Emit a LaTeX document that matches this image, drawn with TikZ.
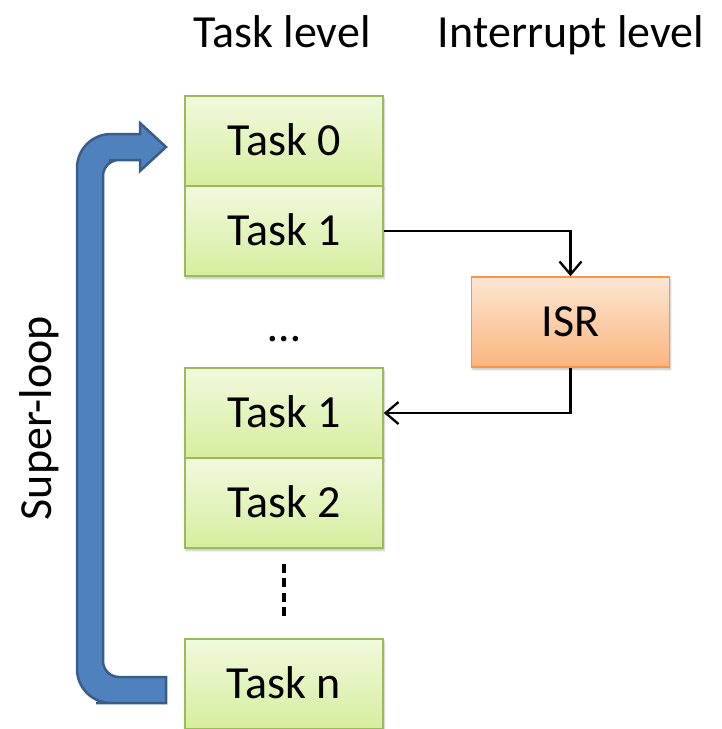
\documentclass[tikz,border=0pt]{standalone}
\usepackage{fontspec}
\setmainfont{Carlito}
\usetikzlibrary{arrows.meta,shadows.blur}
\definecolor{taskTop}{HTML}{F1F9DE}
\definecolor{taskBot}{HTML}{D6EE9E}
\definecolor{taskLine}{HTML}{9BBB59}
\definecolor{isrTop}{HTML}{FDE6D3}
\definecolor{isrBot}{HTML}{FAB57E}
\definecolor{isrLine}{HTML}{F79646}
\definecolor{loopFill}{HTML}{4F81BD}
\definecolor{loopLine}{HTML}{385D8A}
\tikzset{
  big/.style={font=\fontsize{46}{50}\selectfont},
  taskbox/.style={big, draw=taskLine, line width=1.5pt, top color=taskTop, bottom color=taskBot,
    minimum width=198pt, minimum height=90pt, inner sep=0pt, text height=29.6pt, text depth=0pt,
    blur shadow={shadow xshift=1pt, shadow yshift=-2.5pt, shadow blur steps=6, shadow opacity=25}},
  isrbox/.style={taskbox, draw=isrLine, top color=isrTop, bottom color=isrBot},
  flow/.style={line width=2.3pt, -{Straight Barb[length=13pt,width=22pt,line width=2.3pt]}},
  loop/.style={fill=loopFill, draw=loopLine, line width=2.5pt, line join=miter}
}
\begin{document}
\begin{tikzpicture}[x=1pt, y=-1pt]
\useasboundingbox (0,0) rectangle (722,729);

% column headings
\node[big, anchor=base] (hTask) at (282,47) {Task level};
\node[big, anchor=base] (hInt) at (571,47) {Interrupt level};

% super-loop arrow
\draw[loop] (166,147) -- (140,123) -- (140,134) -- (125,134)
  [rounded corners=34pt] -- (77,134) -- (77,703) -- (130,703)
  [sharp corners] -- (166,703) -- (166,677) -- (130,677)
  [rounded corners=16pt] -- (103,677) -- (103,160) -- (125,160)
  [sharp corners] -- (140,160) -- (140,171) -- cycle;
\node[big, rotate=90, anchor=base] (sl) at (51,418) {Super-loop};

% task level boxes
\node[taskbox] (t0) at (284,141) {Task 0};
\node[taskbox] (t1) at (284,231) {Task 1};
\node[big, anchor=base] (dots) at (284,341) {…};
\node[taskbox] (t1b) at (284,413) {Task 1};
\node[taskbox] (t2) at (284,503) {Task 2};
\node[taskbox] (tn) at (284,684) {Task n};

% interrupt level
\node[isrbox] (isr) at (570.5,322) {ISR};

% control flow into and out of the ISR
\draw[flow] (t1.east) -| (isr.north);
\draw[flow] (isr.south) |- (t1b.east);

% omitted tasks
\draw[line width=3.8pt, dash pattern=on 9pt off 5.5pt]
  ([yshift=-15pt]t2.south) -- ([yshift=18pt]tn.north);
\end{tikzpicture}
\end{document}
